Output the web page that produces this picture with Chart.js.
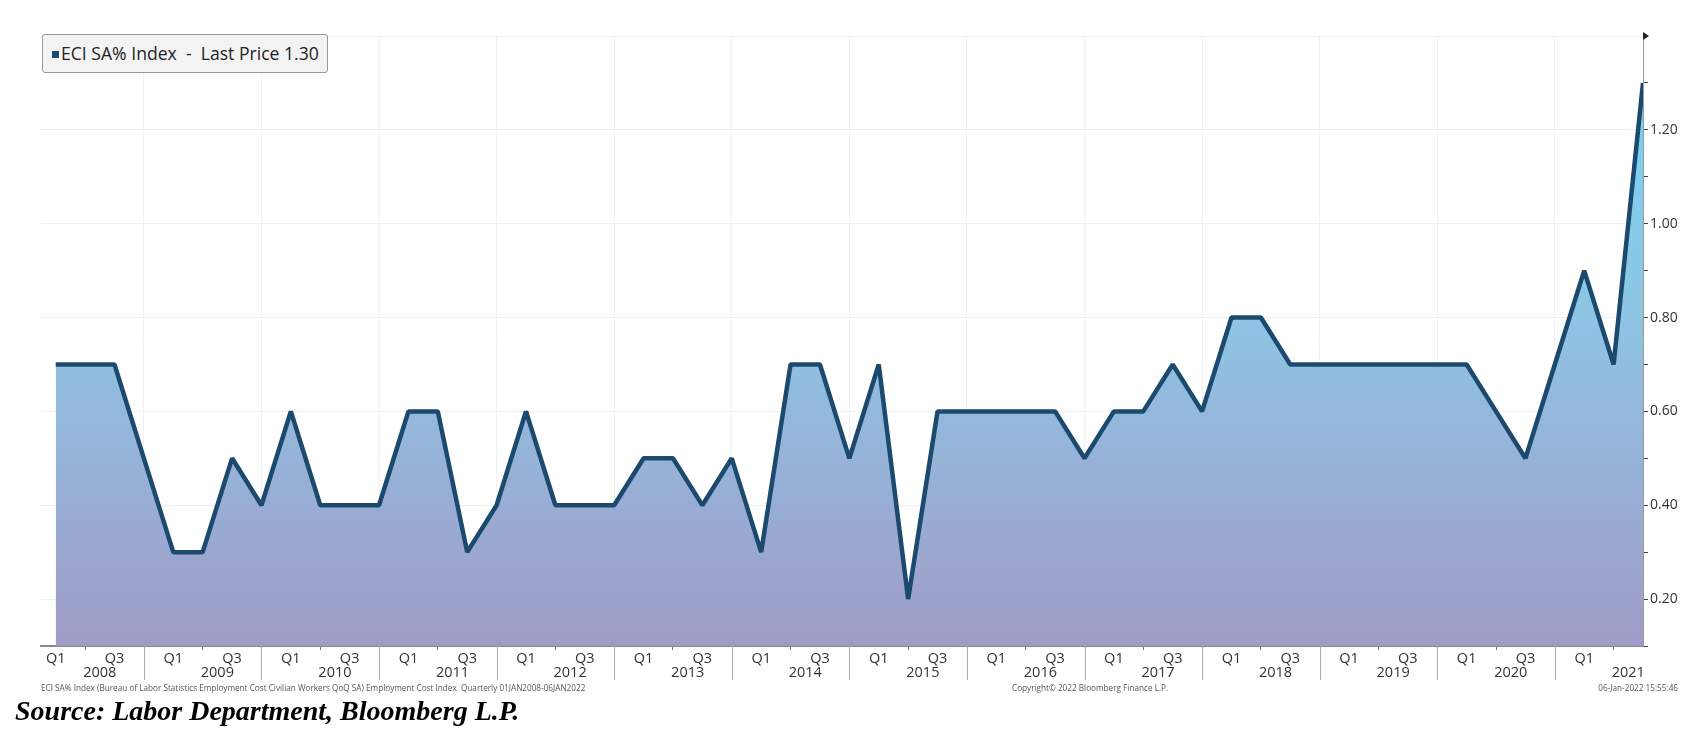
<!DOCTYPE html>
<html>
<head>
<meta charset="utf-8">
<script src="https://cdn.jsdelivr.net/npm/chart.js@4.4.1/dist/chart.umd.min.js"></script>
<style>
    body { margin: 0; background: #fff; }
    #wrap { position: relative; width: 1699px; height: 735px; }
    #legendBox {
        position: absolute; left: 42px; top: 34px; width: 286px; height: 39px;
        box-sizing: border-box; border: 1px solid #9a9a9a; border-radius: 3px;
        background: #f3f3f3; color: #222; font: 17.6px 'Open Sans', sans-serif;
        line-height: 37px; padding-left: 9px; white-space: pre;
    }
    #legendBox .sq {
        display: inline-block; width: 7px; height: 7px; background: #1c4a6e;
        margin-right: 2px; vertical-align: middle; position: relative; top: -1px;
    }
    .foot {
        position: absolute; top: 683px; font: 8.2px 'Open Sans', sans-serif;
        color: #555; white-space: pre; line-height: 10px;
    }
    #source {
        position: absolute; left: 15px; top: 693px; color: #000;
        font: italic bold 28px 'Liberation Serif', serif; line-height: 36px;
    }
</style>
</head>
<body>
<div id="wrap">
    <canvas id="eciChart"></canvas>
    <div id="legendBox"><span class="sq"></span>ECI SA% Index  -  Last Price 1.30</div>
    <div class="foot" style="left:41px">ECI SA% Index (Bureau of Labor Statistics Employment Cost Civilian Workers QoQ SA) Employment Cost Index  Quarterly 01JAN2008-06JAN2022</div>
    <div class="foot" style="left:1012px">Copyright© 2022 Bloomberg Finance L.P.</div>
    <div class="foot" style="right:21px">06-Jan-2022 15:55:46</div>
    <div id="source">Source: Labor Department, Bloomberg L.P.</div>
</div>
<script>
// ===== Datos =====
const years = [2008, 2009, 2010, 2011, 2012, 2013, 2014, 2015, 2016, 2017, 2018, 2019, 2020, 2021];
const quarterNames = ['Q1', 'Q2', 'Q3', 'Q4'];
// ECI trimestral (%), Q1 2008 - Q3 2021
const eciValues = [
    0.7, 0.7, 0.7, 0.5,
    0.3, 0.3, 0.5, 0.4,
    0.6, 0.4, 0.4, 0.4,
    0.6, 0.6, 0.3, 0.4,
    0.6, 0.4, 0.4, 0.4,
    0.5, 0.5, 0.4, 0.5,
    0.3, 0.7, 0.7, 0.5,
    0.7, 0.2, 0.6, 0.6,
    0.6, 0.6, 0.6, 0.5,
    0.6, 0.6, 0.7, 0.6,
    0.8, 0.8, 0.7, 0.7,
    0.7, 0.7, 0.7, 0.7,
    0.7, 0.6, 0.5, 0.7,
    0.9, 0.7, 1.3
];
const yMajorTicks = [0.20, 0.40, 0.60, 0.80, 1.00, 1.20];
const yMinorTicks = [0.10, 0.30, 0.50, 0.70, 0.90, 1.10, 1.30];
const yMin = 0.1;
const yMax = 1.4;

const quarterLabels = years.flatMap(y => quarterNames.map(q => q + ' ' + y)).slice(0, eciValues.length);
const lastIndex = eciValues.length - 1;

const lineColor = '#1c4a6e';
const gridColor = '#f0f0f0';

// años, separadores y flecha del eje
const yearAxisPlugin = {
    id: 'yearAxis',
    afterDraw(chart) {
        const { ctx, chartArea } = chart;
        const xs = chart.scales.x;
        ctx.save();
        ctx.font = '14.5px "Open Sans"';
        ctx.fillStyle = '#333';
        ctx.textAlign = 'center';
        ctx.textBaseline = 'middle';
        years.forEach((yr, k) => {
            ctx.fillText(String(yr), xs.getPixelForValue(k * 4 + 1.5), 673);
            const sepVal = k * 4 + 3;
            if (sepVal <= lastIndex) {
                const x = Math.round(xs.getPixelForValue(sepVal)) + 0.5;
                ctx.strokeStyle = '#aaa';
                ctx.lineWidth = 1;
                ctx.beginPath();
                ctx.moveTo(x, chartArea.bottom);
                ctx.lineTo(x, chartArea.bottom + 34);
                ctx.stroke();
            }
        });
        // flecha arriba del eje y
        ctx.fillStyle = '#222';
        ctx.beginPath();
        ctx.moveTo(chartArea.right, chartArea.top - 4);
        ctx.lineTo(chartArea.right + 6, chartArea.top);
        ctx.lineTo(chartArea.right, chartArea.top + 4);
        ctx.closePath();
        ctx.fill();
        ctx.restore();
    }
};

const ctxEci = document.getElementById('eciChart').getContext('2d');
new Chart(ctxEci, {
    type: 'line',
    data: {
        labels: quarterLabels,
        datasets: [{
            label: 'ECI SA% Index',
            data: eciValues.map((v, i) => ({ x: i, y: v })),
            borderColor: lineColor,
            borderWidth: 4.5,
            borderJoinStyle: 'bevel',
            pointRadius: 0,
            tension: 0,
            fill: 'start',
            backgroundColor: context => {
                const { chart } = context;
                const area = chart.chartArea;
                if (!area) return 'rgba(0,0,0,0)';
                const g = chart.ctx.createLinearGradient(0, area.top, 0, area.bottom);
                g.addColorStop(0, '#72d7f5');
                g.addColorStop(0.45, '#8ec5e4');
                g.addColorStop(1, '#a09cc8');
                return g;
            }
        }]
    },
    options: {
        responsive: true,
        maintainAspectRatio: false,
        animation: false,
        layout: { padding: { left: 41, top: 36, right: 0, bottom: 0 } },
        plugins: {
            legend: { display: false },
            tooltip: { enabled: false }
        },
        scales: {
            x: {
                type: 'linear',
                min: -0.5,
                max: lastIndex,
                afterBuildTicks: s => { s.ticks = eciValues.map((_, i) => ({ value: i })); },
                afterFit: s => { s.height = 89; },
                ticks: {
                    autoSkip: false,
                    maxRotation: 0,
                    padding: 0,
                    color: '#333',
                    font: { family: 'Open Sans', size: 14.5 },
                    callback: v => {
                        if (v === lastIndex) return '';
                        const q = v % 4;
                        return q === 0 ? quarterNames[0] : q === 2 ? quarterNames[2] : '';
                    }
                },
                grid: {
                    color: c => (c.tick && c.tick.value % 4 === 3) ? gridColor : 'rgba(0,0,0,0)',
                    tickColor: c => (c.tick && c.tick.value % 4 === 1) ? '#777' : 'rgba(0,0,0,0)',
                    tickLength: 4
                },
                border: { color: '#888', width: 2 }
            },
            y: {
                position: 'right',
                min: yMin,
                max: yMax,
                afterBuildTicks: s => {
                    s.ticks = yMinorTicks.concat(yMajorTicks, [yMax])
                        .sort((a, b) => a - b)
                        .map(v => ({ value: v }));
                },
                afterFit: s => { s.width = 56; },
                ticks: {
                    padding: 2,
                    color: '#333',
                    font: { family: 'Open Sans', size: 14 },
                    callback: v => yMajorTicks.includes(v) ? v.toFixed(2) : ''
                },
                grid: {
                    color: c => (c.tick && (yMajorTicks.includes(c.tick.value) || c.tick.value === yMax)) ? gridColor : 'rgba(0,0,0,0)',
                    tickColor: c => (c.tick && c.tick.value === yMax) ? 'rgba(0,0,0,0)' : '#444',
                    tickLength: 5
                },
                border: { color: '#999', width: 1 }
            }
        }
    },
    plugins: [yearAxisPlugin]
});
</script>
</body>
</html>
